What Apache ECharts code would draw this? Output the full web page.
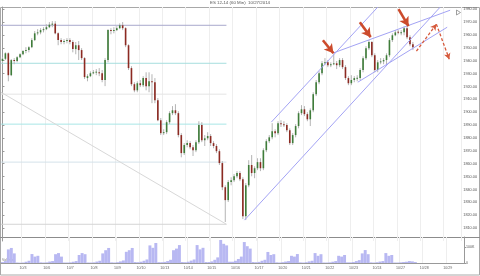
<!DOCTYPE html>
<html><head><meta charset="utf-8">
<script src="https://cdn.jsdelivr.net/npm/echarts@6/dist/echarts.min.js"></script>
<style>html,body{margin:0;padding:0;background:#fff}#c{width:480px;height:276px}</style>
</head><body><div id="c"></div>
<script>
const chartTitle = 'ES 12-14 (60 Min)  10/27/2014';
const days = ['10/2','10/3','10/6','10/7','10/8','10/9','10/10','10/13','10/14','10/15','10/16','10/17','10/20','10/21','10/22','10/23','10/24','10/27','10/28','10/29'];
const slots = ['18:00','21:00','00:00','03:00','06:00','09:00','12:00','15:00'];
const firstSlot = 3;

const opens = [1939.75,1941.5,1945.75,1928.75,1940.5,1939.75,1942.75,1945,1947.5,1948.25,
1950.5,1956,1961.25,1962,1963.75,1964.5,1966,1968,1968.75,1961.25,
1956,1954.5,1955.25,1956,1954.5,1949,1952,1948.25,1942,1926.5,
1928,1930.25,1930.75,1931,1930.25,1925,1940.5,1963.75,1963,1963.75,
1965.25,1967.5,1965.25,1952,1934.25,1921.75,1917,1922.5,1921,1926.5,
1920.25,1924,1923.25,1909.25,1893.75,1883.75,1884.5,1892.25,1899.25,1901.5,
1899.25,1882.25,1868.25,1874.5,1876,1872.75,1870.5,1876.75,1890,1878.25,
1879.75,1881.5,1876,1873.75,1869.75,1860.5,1841.75,1831.75,1845.75,1847.25,
1850.25,1852.75,1848,1819.25,1843.25,1859,1852.75,1856.5,1861.25,1856.5,
1870.5,1877.5,1880.5,1885.25,1883.75,1891.5,1890.75,1890,1886,1876,
1882.25,1889.25,1899.25,1902.25,1898.5,1894.5,1901.5,1914,1923.25,1930.25,
1938,1938.75,1936.5,1937.25,1938,1936.5,1940.5,1935,1926.5,1922.5,
1925,1926,1926.5,1932.75,1942,1949.75,1954.5,1944.25,1932.75,1938.75,
1939.5,1940.5,1944.25,1956,1959.75,1962.5,1961.25,1962,1965.25,1958.25,
1952.75];
const closes = [1941.5,1945.75,1928.75,1940.5,1939.75,1942.75,1945,1947.5,1948.25,1950.5,
1956,1961.25,1962,1963.75,1964.5,1966,1968,1968.75,1961.25,1956,
1954.5,1955.25,1956,1954.5,1949,1952,1948.25,1942,1927.25,1928,
1930.25,1931,1931.5,1930.25,1925,1940.5,1963.75,1963,1963.75,1965.25,
1967.5,1965.25,1952,1934.25,1921.75,1917,1922.5,1921,1926.5,1920.25,
1924,1923.25,1909.25,1893.75,1883.75,1884.5,1892.25,1899.25,1901.5,1899.25,
1882.25,1868.25,1874.5,1876,1872.75,1870.5,1876.75,1890,1878.25,1879.75,
1881.5,1876,1873.75,1869.75,1860.5,1841.75,1831.75,1845.75,1847.25,1850.25,
1852.75,1848,1819.25,1843.25,1859,1852.75,1856.5,1861.25,1856.5,1870.5,
1877.5,1880.5,1885.25,1883.75,1891.5,1890.75,1890,1886,1876,1882.25,
1889.25,1899.25,1902.25,1898.5,1894.5,1901.5,1914,1923.25,1930.25,1938,
1938.75,1936.5,1937.25,1938,1936.5,1940.5,1935,1926.5,1922.5,1925,
1926.5,1926.75,1932.75,1942,1949.75,1954.5,1944.25,1932.75,1938.75,1939.5,
1940.5,1944.25,1956,1959.75,1962,1961.75,1962,1965.25,1958.25,1952.75,
1950.5];
const lows = [1938,1940.5,1924,1928,1937.25,1938.75,1942,1944.25,1945.75,1946.5,
1949.75,1955.25,1959.75,1960.5,1962,1963.75,1965.25,1966,1960.5,1952,
1952.75,1952.75,1953.5,1952.75,1946.5,1945,1940.5,1940.5,1925.75,1924,
1927.25,1929.5,1928.75,1928,1923.25,1920.25,1938.75,1960.5,1961.25,1963,
1964.5,1963.75,1950.5,1932.75,1920.25,1915.5,1915.5,1919.5,1919.5,1917,
1915.5,1907,1907,1893,1882.25,1882.25,1883,1890.75,1897.75,1897.75,
1880.5,1865,1866.75,1872.75,1871.25,1866,1869,1875.25,1876.75,1873.75,
1878.25,1873.75,1872,1868.25,1859,1839.5,1814.75,1830.25,1843.25,1845.75,
1848.75,1846.5,1817,1816.25,1841.75,1850.25,1848.75,1855,1854.25,1855,
1869,1876,1879,1880.5,1882.25,1888.5,1888.5,1884.5,1874.5,1874.5,
1880.5,1887.5,1897.75,1897,1893,1889.25,1900,1912.5,1921.75,1928.75,
1936.5,1935,1935,1936.5,1933.5,1935,1933.5,1925,1921,1921,
1923.25,1924,1925,1931,1940.5,1948.25,1942.75,1931,1931,1937.25,
1937.25,1937.25,1942.75,1954.5,1959,1960.5,1959.75,1959.75,1956.75,1951.25,
1948.25];
const highs = [1942.75,1946.5,1946.5,1941.25,1942,1943.5,1945.75,1948.25,1950.5,1951.25,
1957.5,1963,1964.5,1965.25,1966,1968.25,1970,1970.75,1970.75,1962,
1957.5,1956.75,1957.5,1957.5,1956,1954.5,1955.25,1949.75,1942.75,1929.5,
1931.75,1932.75,1933.5,1934.25,1932.75,1942,1964.5,1965.25,1966,1966.75,
1969,1970,1966,1952.75,1935.75,1923.25,1924,1925,1928,1931,
1931,1929.5,1926.5,1911,1895.5,1886.75,1893.75,1900.75,1904.75,1906.25,
1900.75,1883.75,1876,1878.25,1877.5,1874.5,1878.25,1893,1892.25,1882.25,
1884.5,1883,1877.5,1875.25,1871.25,1862,1843.25,1847.25,1849.5,1852,
1854.25,1854.25,1849.5,1845,1862.75,1866.75,1858,1864.25,1864.25,1872,
1879,1882.25,1891.5,1886.75,1893,1893.75,1893,1891.5,1887.5,1883.75,
1890.75,1900.75,1905.5,1904.75,1900,1903,1915.5,1925,1931.75,1939.75,
1942,1940.5,1938.75,1945,1939.75,1942,1942,1936.5,1928,1928.75,
1928,1928.75,1934.25,1943.5,1951.25,1956,1955.25,1945.75,1940.5,1942,
1942,1945.75,1957.5,1961.25,1963.75,1963.75,1963.75,1966.75,1967.5,1959.75,
1954.5];
// volume in thousands of contracts
const volumes = [6,12,85,94,60,
3,2,3,8,14,56,40,45,
4,3,4,9,12,55,62,40,
3,3,4,8,12,50,62,55,
3,3,4,9,14,60,80,94,
4,3,5,10,16,70,80,94,
6,5,8,14,22,110,95,125,
5,5,7,12,20,80,90,112,
6,5,8,15,22,112,85,95,
6,6,10,20,35,144,120,110,
8,8,14,25,40,131,105,90,
6,5,7,14,20,69,50,55,
4,3,5,9,12,45,40,56,
4,3,5,10,14,62,45,55,
3,3,4,8,12,45,40,50,
4,4,6,12,18,60,81,55,
4,3,5,9,12,62,45,50,
3,3,4,6,8,12,10,6];

// retracement levels drawn from the left edge to the October low (bar index, price)
const fibLevels = [1967.5, 1938.0, 1914.0, 1890.75, 1861.25, 1813.0];
const fibColors = ['#a9a9cc','#a6dede','#e4e4e4','#a8e6e6','#d4e2ea','#d4d4d4'];
const fibSpan = [-0.5, 76.4];
const fibDiagonal = [[-0.5, 1915.5], [76.4, 1813.0]];
const trendLines = [
  [[91.7, 1892.3], [128.0, 1981.6]],
  [[82.55, 1816.2], [149.3, 1981.6]],
  [[112.7, 1945.9], [152.7, 1979.2]],
  [[121.2, 1923.3], [151.7, 1966.0]]
];
const redArrows = [
  [[109.3, 1955.9], [112.9, 1945.8]],
  [[121.9, 1969.9], [125.6, 1958.3]],
  [[135.1, 1980.0], [138.5, 1966.8]]
];
const forecast = [[141.2, 1947.4], [148.0, 1968.4], [152.4, 1941.2]];

const categories = [];
days.forEach((d, k) => slots.forEach((s, j) => { if (k > 0 || j >= firstSlot) categories.push(d + ' ' + s); }));
const candleData = opens.map((o, i) => [i, o, closes[i], lows[i], highs[i]]);
const lastClose = closes[closes.length - 1];
const isMidnight = (i, v) => String(v).endsWith('00:00');
const FONT = 'Liberation Sans';

const series = [];
series.push({
  type: 'custom', xAxisIndex: 0, yAxisIndex: 0, z: 2,
  data: candleData, encode: { x: 0, y: [1, 2, 3, 4] },
  renderItem: function (params, api) {
    const i = api.value(0), o = api.value(1), c = api.value(2), l = api.value(3), h = api.value(4);
    const pO = api.coord([i, o]), pC = api.coord([i, c]), pL = api.coord([i, l]), pH = api.coord([i, h]);
    const w = api.size([1, 0])[0] * 0.55;
    const top = Math.min(pO[1], pC[1]);
    const ht = Math.max(Math.abs(pO[1] - pC[1]), 1);
    return { type: 'group', children: [
      { type: 'line', shape: { x1: pL[0], y1: pL[1], x2: pH[0], y2: pH[1] }, style: { stroke: '#b4b4b4', lineWidth: 1 } },
      { type: 'rect', shape: { x: pO[0] - w / 2, y: top, width: w, height: ht }, style: { fill: c >= o ? '#3f7d3a' : '#8c2a22' } }
    ]};
  }
});
fibLevels.forEach((lvl, k) => series.push({
  type: 'line', xAxisIndex: 1, yAxisIndex: 0, z: 1, silent: true, symbol: 'none',
  data: [[fibSpan[0], lvl], [fibSpan[1], lvl]], lineStyle: { color: fibColors[k], width: 1 }
}));
series.push({ type: 'line', xAxisIndex: 1, yAxisIndex: 0, z: 1, silent: true, symbol: 'none',
  data: fibDiagonal, lineStyle: { color: '#d8d8d8', width: 1 } });
trendLines.forEach(t => series.push({
  type: 'line', xAxisIndex: 1, yAxisIndex: 0, z: 3, silent: true, symbol: 'none',
  data: t, lineStyle: { color: '#a3a3f4', width: 1 }
}));
const ml = [];
redArrows.forEach(a => ml.push([
  { coord: a[0], symbol: 'none', lineStyle: { color: '#cc4b2c', width: 2.6, type: 'solid' } },
  { coord: a[1], symbol: 'arrow', symbolSize: [8, 9] }
]));
for (let k = 0; k < forecast.length - 1; k++) ml.push([
  { coord: forecast[k], symbol: 'none', lineStyle: { color: '#d65a3c', width: 1.3, type: [3, 2] } },
  { coord: forecast[k + 1], symbol: 'arrow', symbolSize: [5, 6] }
]);
ml.push({ yAxis: lastClose, symbol: 'none', lineStyle: { opacity: 0 },
  label: { show: true, position: 'end', distance: 2, formatter: lastClose.toFixed(2), backgroundColor: '#1a1a1a',
    color: '#fff', fontSize: 3.8, fontFamily: FONT, padding: [1, 1.5] } });
series.push({
  type: 'line', xAxisIndex: 1, yAxisIndex: 0, z: 5, silent: true, symbol: 'none',
  data: forecast, lineStyle: { opacity: 0 },
  markLine: { silent: true, animation: false, symbol: ['none', 'arrow'], label: { show: false }, data: ml }
});
series.push({
  type: 'bar', xAxisIndex: 2, yAxisIndex: 1, data: volumes, barCategoryGap: '0%',
  itemStyle: { color: '#b8b8f2' }, silent: true
});

const chart = echarts.init(document.getElementById('c'), null, { renderer: 'canvas' });
chart.setOption({
  animation: false,
  backgroundColor: '#fff',
  title: { text: chartTitle, left: 'center', top: 1, padding: 0,
    textStyle: { fontSize: 4.4, color: '#555', fontWeight: 'normal', fontFamily: FONT } },
  grid: [
    { left: 1, right: 16, top: 7, bottom: 35 },
    { left: 1, right: 16, top: 237, bottom: 13 }
  ],
  xAxis: [
    { type: 'category', gridIndex: 0, data: categories, axisLine: { show: false }, axisTick: { show: false },
      axisLabel: { show: false }, splitLine: { show: true, interval: isMidnight, lineStyle: { color: '#eeeeee', width: 1 } } },
    { type: 'value', gridIndex: 0, min: -0.5, max: categories.length - 0.5, show: false },
    { type: 'category', gridIndex: 1, data: categories, axisLine: { lineStyle: { color: '#999' } }, axisTick: { show: false },
      axisLabel: { interval: isMidnight, formatter: v => v.split(' ')[0], fontSize: 3.6, color: '#666', margin: 3, fontFamily: FONT },
      splitLine: { show: true, interval: isMidnight, lineStyle: { color: '#eeeeee', width: 1 } } }
  ],
  yAxis: [
    { type: 'value', gridIndex: 0, position: 'right', min: 1800, max: 1981.7, interval: 10,
      axisLine: { show: true, lineStyle: { color: '#999' } }, axisTick: { show: true, length: 2, lineStyle: { color: '#999' } },
      axisLabel: { fontSize: 3.8, color: '#555', margin: 2, fontFamily: FONT, formatter: v => v.toFixed(2), showMinLabel: false, showMaxLabel: false },
      splitLine: { show: false } },
    { type: 'value', gridIndex: 1, position: 'right', min: 0, max: 162.5, interval: 100,
      axisLine: { show: true, lineStyle: { color: '#999' } }, axisTick: { show: true, length: 2, lineStyle: { color: '#999' } },
      axisLabel: { fontSize: 3.6, color: '#555', margin: 2, fontFamily: FONT, formatter: v => v === 0 ? '0' : v + 'K', showMaxLabel: false },
      splitLine: { show: false } }
  ],
  graphic: [
    { type: 'rect', silent: true, shape: { x: 0.5, y: 7.5, width: 479, height: 267.5 }, style: { fill: 'none', stroke: '#a8a8a8', lineWidth: 1 } },
    { type: 'line', silent: true, shape: { x1: 0, y1: 237.5, x2: 480, y2: 237.5 }, style: { stroke: '#8c8c8c', lineWidth: 1 } },
    { type: 'polygon', silent: true, shape: { points: [[456.5, 10], [460.5, 12.5], [456.5, 15]] }, style: { fill: 'none', stroke: '#888', lineWidth: 0.8 } },
    { type: 'line', silent: true, shape: { x1: 461.5, y1: 9.5, x2: 461.5, y2: 15.5 }, style: { stroke: '#888', lineWidth: 0.8 } },
    { type: 'text', silent: true, x: 2, y: 258.5, style: { text: 'Volume', fontSize: 3.5, fill: '#777', fontFamily: FONT } }
  ],
  series: series
});
</script></body></html>
